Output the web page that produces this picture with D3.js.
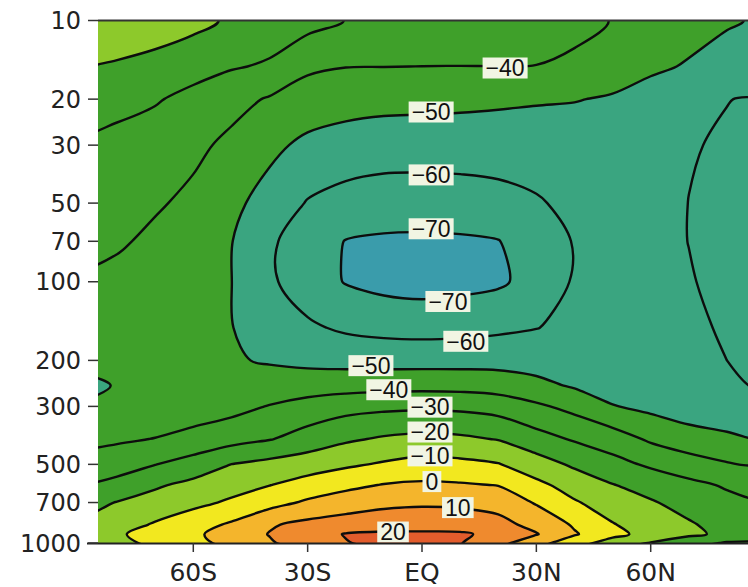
<!DOCTYPE html>
<html>
<head>
<meta charset="utf-8">
<script src="https://cdn.jsdelivr.net/npm/d3@7"></script>
<style>
  body { margin: 0; background: #fff; }
</style>
</head>
<body>
<div id="chart"></div>
<script>
// latitude columns (deg, S negative) and pressure rows (hPa, top to bottom)
var lats = [-90, -80, -70, -60, -50, -40, -30, -20, -10, 0, 10, 20, 30, 40, 50, 60, 70, 80, 90];
var levels = [10, 15, 20, 30, 50, 70, 100, 150, 200, 250, 300, 400, 500, 600, 700, 850, 925, 1000];

// zonal mean temperature (deg C), one array per pressure level
var t10   = [-11, -12, -13.5, -17, -21.5, -25, -26.3, -30.2, -31, -32, -33, -33.8, -34.5, -35.5, -40.5, -44, -46.5, -49.2, -51];
var t15   = [-19.5, -21.3, -23.9, -26.6, -29.2, -31.1, -38.5, -39.8, -39.9, -40.05, -40.1, -40.05, -40.2, -43, -45.5, -48.3, -50.8, -53, -55];
var t20   = [-24, -26.7, -29.2, -32.6, -36.7, -40.9, -44, -46, -47, -47.3, -47.8, -48.5, -49.2, -49.6, -50.9, -54, -57, -59.8, -61];
var t30   = [-32, -33.2, -34.5, -37.7, -42.3, -47.6, -52.3, -54.3, -55.2, -55.3, -55.2, -55, -54.8, -55.3, -56.5, -57.8, -59.4, -61, -62];
var t50   = [-34.5, -36.8, -38.8, -42.3, -47.6, -53.9, -60.6, -63.5, -65, -65.2, -64.8, -63.5, -61, -57.5, -55.5, -56.3, -60.1, -62, -63];
var t70   = [-37, -38.6, -42.2, -46, -49.7, -58.5, -65, -70.3, -71.3, -71.5, -71.2, -70.3, -65, -59.5, -57, -57.5, -60.1, -62, -63];
var t100  = [-41.5, -43, -45, -47.5, -49.9, -58.5, -65, -70.5, -73, -74, -73, -71.5, -66.5, -59, -57, -57.5, -59.5, -62, -63];
var t150  = [-45, -45.5, -46.5, -48, -49.8, -53.5, -58.5, -61.5, -63, -63.5, -63, -61.8, -60.2, -58, -57.3, -57.7, -59, -60.6, -62];
var t200  = [-48.5, -48.4, -48, -48.3, -49.2, -50.8, -52.3, -53.2, -53.6, -53.7, -53.6, -53.5, -54, -55, -56.5, -57.8, -59, -60, -61];
var t250  = [-52, -49.6, -48.5, -47.8, -47, -46, -45, -44, -43.3, -43, -43.3, -44.5, -47.5, -51, -54.5, -56.5, -58, -59.3, -60.5];
var t300  = [-49.5, -48.5, -47.3, -45.5, -43.3, -39.5, -36, -33.5, -32.2, -31.7, -32.2, -34, -38.3, -43, -49.5, -52.5, -55, -57, -58];
var t400  = [-44, -41.6, -39.7, -36.7, -33.5, -30.5, -26.1, -21.5, -18.8, -17.4, -18.2, -20.5, -26.2, -31, -35, -41.5, -46, -48, -51];
var t500  = [-36.5, -33.6, -30.2, -26, -19.9, -17.1, -14.4, -11.6, -8.9, -6.5, -7.5, -9.5, -15.4, -21.6, -26.8, -31.5, -35.4, -39.2, -42];
var t600  = [-30.5, -27.5, -21.3, -17.3, -13.8, -10.2, -6.3, -2.5, 0.5, 1.5, 1, -0.3, -7.7, -13.9, -19.6, -23.7, -27.6, -31, -33];
var t700  = [-24, -19.6, -16.4, -12.6, -8.5, -3.6, 1.5, 5, 7.5, 8.5, 8, 6.5, -0.9, -9.1, -14.4, -19.1, -23.5, -27.5, -30];
var t850  = [-19, -14.5, -9, -3.9, 1.3, 9, 12.5, 14.5, 16, 16.3, 15.8, 13, 7.1, -1.2, -9.5, -14.4, -19, -23.5, -26];
var t925  = [-15, -11.2, -6.5, -1.7, 4.1, 10.4, 15.6, 20.5, 21.5, 21.5, 21.3, 17.5, 10.6, 1, -7.4, -13.3, -18.2, -22, -24];
var t1000 = [-17, -12.5, -8, -3, 3, 9, 14.5, 19.5, 22.5, 22.5, 20.5, 13, 4, -6, -14, -20.5, -26, -31, -33];

var thresholds = [-70, -60, -50, -40, -30, -20, -10, 0, 10, 20];

// axis ticks
var xTicks = [-60, -30, 0, 30, 60];
var xTickLabels = ["60S", "30S", "EQ", "30N", "60N"];
var yTicks = [10, 20, 30, 50, 70, 100, 200, 300, 500, 700, 1000];

// contour labels: value, latitude, pressure
var labelValues = [-40, -50, -60, -70, -70, -60, -50, -40, -30, -20, -10, 0, 10, 20];
var labelLats   = [21.8, 2.4, 2.4, 2.4, 6.8, 11.5, -13.4, -8.7, 2.1, 2.1, 2.1, 2.6, 9.4, -7.6];
var labelLevels = [15.2, 22.4, 39, 62.7, 119, 169, 209.5, 259, 302, 376, 464, 582, 732, 908];

// fill colours: first one for < -70, then one per threshold band
var bandColors = ["#3a9cab", "#3aa580", "#3aa580", "#3fa02a", "#3fa02a", "#3fa02a",
                  "#8dc92b", "#f2e81f", "#f4b52c", "#ef8a2e", "#e35c2c"];

var width = 748, height = 587;
var plotL = 98, plotR = 748, plotT = 20.5, plotB = 543;

var svg = d3.select("#chart").append("svg")
  .attr("width", width)
  .attr("height", height);

var x = d3.scaleLinear().domain([-85, 85]).range([98, 746]);
var y = d3.scaleLog().domain([10, 1000]).range([plotT, plotB]);

var rows = [t10, t15, t20, t30, t50, t70, t100, t150, t200, t250, t300, t400, t500, t600, t700, t850, t925, t1000];
var values = [].concat.apply([], rows);
var logLevels = levels.map(function(p) { return Math.log10(p); });

// grid coords -> lat / pressure -> screen
function interp(arr, i) {
  var i0 = Math.max(0, Math.min(arr.length - 2, Math.floor(i)));
  return arr[i0] + (i - i0) * (arr[i0 + 1] - arr[i0]);
}
function project(pt) {
  var lat = interp(lats, pt[0] - 0.5);
  var lp = interp(logLevels, pt[1] - 0.5);
  return [x(lat), y(Math.pow(10, lp))];
}

var contours = d3.contours()
  .size([lats.length, levels.length])
  .thresholds(thresholds)(values);

var ringLine = d3.line().curve(d3.curveCatmullRomClosed.alpha(0.5));
function pathOf(geom) {
  return geom.coordinates.map(function(poly) {
    return poly.map(function(ring) {
      return ringLine(ring.slice(0, -1).map(project));
    }).join("");
  }).join("");
}

svg.append("clipPath").attr("id", "plot")
  .append("rect")
  .attr("x", plotL).attr("y", plotT)
  .attr("width", plotR - plotL).attr("height", plotB - plotT);

var plot = svg.append("g").attr("clip-path", "url(#plot)");

plot.append("rect")
  .attr("x", plotL).attr("y", plotT)
  .attr("width", plotR - plotL).attr("height", plotB - plotT)
  .attr("fill", bandColors[0]);

plot.selectAll("path.band")
  .data(contours)
  .enter().append("path")
  .attr("class", "band")
  .attr("d", function(d) { return pathOf(d); })
  .attr("fill", function(d, i) { return bandColors[i + 1]; })
  .attr("fill-rule", "evenodd");

plot.selectAll("path.line")
  .data(contours)
  .enter().append("path")
  .attr("class", "line")
  .attr("d", function(d) { return pathOf(d); })
  .attr("fill", "none")
  .attr("stroke", "#0d0d0d")
  .attr("stroke-width", 2.4)
  .attr("stroke-linejoin", "round");

// contour labels
var labels = svg.selectAll("g.lab")
  .data(labelValues)
  .enter().append("g")
  .attr("class", "lab")
  .attr("transform", function(d, i) {
    return "translate(" + x(labelLats[i]) + "," + y(labelLevels[i]) + ")";
  });

labels.append("rect");
labels.append("text")
  .attr("text-anchor", "middle")
  .attr("dy", "0.36em")
  .style("font-family", "'Liberation Sans', Arial, sans-serif")
  .style("font-size", "23px")
  .attr("fill", "#111")
  .text(function(d) { return d < 0 ? "\u2212" + Math.abs(d) : d; });

labels.each(function() {
  var g = d3.select(this);
  var w = g.select("text").node().getComputedTextLength() + 6;
  g.select("rect")
    .attr("x", -w / 2).attr("y", -10.5)
    .attr("width", w).attr("height", 21)
    .attr("fill", "#f1f5e3");
});

// frame lines
svg.append("line")
  .attr("x1", plotL).attr("x2", plotR)
  .attr("y1", plotT).attr("y2", plotT)
  .attr("stroke", "#333").attr("stroke-width", 1.8);

svg.append("line")
  .attr("x1", 87).attr("x2", plotR)
  .attr("y1", plotB + 0.5).attr("y2", plotB + 0.5)
  .attr("stroke", "#222").attr("stroke-width", 2);

// y axis
svg.selectAll("line.ytick")
  .data(yTicks)
  .enter().append("line")
  .attr("class", "ytick")
  .attr("x1", 88).attr("x2", plotL)
  .attr("y1", function(d) { return y(d); })
  .attr("y2", function(d) { return y(d); })
  .attr("stroke", "#333").attr("stroke-width", 1.5);

svg.selectAll("text.ylab")
  .data(yTicks)
  .enter().append("text")
  .attr("class", "ylab")
  .attr("x", 81)
  .attr("y", function(d) { return y(d); })
  .attr("dy", "0.36em")
  .attr("text-anchor", "end")
  .style("font-family", "'DejaVu Sans', sans-serif")
  .style("font-size", "24px")
  .attr("fill", "#222")
  .text(function(d) { return d; });

// x axis
svg.selectAll("line.xtick")
  .data(xTicks)
  .enter().append("line")
  .attr("class", "xtick")
  .attr("x1", function(d) { return x(d); })
  .attr("x2", function(d) { return x(d); })
  .attr("y1", plotB).attr("y2", plotB + 9)
  .attr("stroke", "#333").attr("stroke-width", 1.5);

svg.selectAll("text.xlab")
  .data(xTicks)
  .enter().append("text")
  .attr("class", "xlab")
  .attr("x", function(d) { return x(d); })
  .attr("y", 581)
  .attr("text-anchor", "middle")
  .style("font-family", "'DejaVu Sans', sans-serif")
  .style("font-size", "25px")
  .attr("fill", "#222")
  .text(function(d, i) { return xTickLabels[i]; });
</script>
</body>
</html>
